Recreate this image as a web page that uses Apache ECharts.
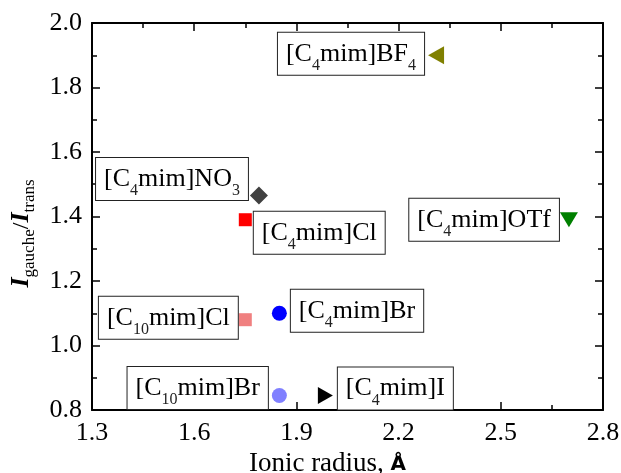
<!DOCTYPE html>
<html>
<head>
<meta charset="utf-8">
<script src="https://cdn.jsdelivr.net/npm/echarts@6/dist/echarts.min.js"></script>
<style>
  html, body { margin: 0; padding: 0; background: #fff; }
  #chart { width: 621px; height: 473px; }
</style>
</head>
<body>
<div id="chart"></div>
<script>
// data
var labels = ['[C4mim]BF4', '[C4mim]NO3', '[C4mim]Cl', '[C4mim]OTf', '[C10mim]Cl', '[C4mim]Br', '[C10mim]Br', '[C4mim]I'];
var ionicRadius = [2.31, 1.79, 1.75, 2.70, 1.75, 1.85, 1.85, 1.985];
var ratio = [1.90, 1.465, 1.39, 1.39, 1.08, 1.10, 0.845, 0.845];
var xTicks = [1.3, 1.6, 1.9, 2.2, 2.5, 2.8];
var yTicks = [0.8, 1.0, 1.2, 1.4, 1.6, 1.8, 2.0];

// marker styles
var symbols = [
    'path://M0,5L10,0L10,10Z',   // left triangle
    'diamond',
    'rect',
    'path://M0,0L10,0L5,10Z',    // down triangle
    'rect',
    'circle',
    'circle',
    'path://M0,0L10,5L0,10Z'     // right triangle
];
var sizes = [[16, 18], [18, 18], [13, 13], [18, 15], [13, 13], [15, 15], [15, 15], [15, 17]];
var colors = ['#808000', '#404040', '#ff0000', '#008000', '#f08080', '#0000ff', '#8080ff', '#000000'];
// label placement: side, gap, vertical offset
var labelPos = [
    ['left', 4, -1.5],
    ['left', 2, -16.5],
    ['right', 2, 13],
    ['left', 1, 0],
    ['left', 1, -2],
    ['right', 4, -2.5],
    ['left', 4, -7.5],
    ['right', 5, -7]
];

var serif = '"Liberation Serif", "Times New Roman", serif';

function subText(s) {
    // digits become subscripts
    return ('{m|' + s.replace(/(\d+)/g, '}{s|$1}{m|') + '}').replace(/\{m\|\}/g, '');
}

var points = labels.map(function (name, i) {
    return {
        name: name,
        value: [ionicRadius[i], ratio[i]],
        symbol: symbols[i],
        symbolSize: sizes[i],
        itemStyle: { color: colors[i], opacity: 1 },
        label: {
            show: true,
            position: labelPos[i][0],
            distance: labelPos[i][1],
            offset: [0, labelPos[i][2]],
            formatter: subText(name),
            backgroundColor: '#fff',
            borderColor: '#222',
            borderWidth: 1,
            padding: [1, 8, 1, 8],
            rich: {
                m: { fontFamily: serif, fontSize: 26, color: '#000', lineHeight: 40, verticalAlign: 'bottom', padding: [0, 0, 7, 0] },
                s: { fontFamily: serif, fontSize: 16, color: '#222', lineHeight: 40, verticalAlign: 'bottom' }
            }
        }
    };
});

var myChart = echarts.init(document.getElementById('chart'), null, { renderer: 'canvas' });

var axisLine = { show: true, lineStyle: { color: '#000', width: 2 } };
var tick = { show: true, inside: true, length: 8, lineStyle: { color: '#000', width: 1.5 } };
var minor = { show: true, splitNumber: 2, length: 5, lineStyle: { color: '#000', width: 1.5 } };

var option = {
    animation: false,
    backgroundColor: '#fff',
    grid: { left: 92, right: 18, top: 23, bottom: 63, containLabel: false, outerBoundsMode: 'none' },
    xAxis: [
        {
            type: 'value', min: xTicks[0], max: xTicks[xTicks.length - 1], interval: 0.3,
            axisLine: axisLine, axisTick: tick, minorTick: minor, splitLine: { show: false },
            axisLabel: { fontFamily: serif, fontSize: 26, color: '#000', margin: 10, formatter: function (v) { return v.toFixed(1); } },
            name: '{t|Ionic radius, }{a|Å}', nameLocation: 'middle', nameGap: 36,
            nameTextStyle: {
                padding: [0, 40, 0, 0],
                rich: {
                    t: { fontFamily: serif, fontSize: 27, color: '#000' },
                    a: { fontFamily: '"DejaVu Sans", sans-serif', fontSize: 20, fontWeight: 'bold', color: '#000' }
                }
            }
        },
        {
            type: 'value', position: 'top', min: xTicks[0], max: xTicks[xTicks.length - 1], interval: 0.3,
            axisLine: axisLine, axisTick: tick, minorTick: minor, splitLine: { show: false },
            axisLabel: { show: false }
        }
    ],
    yAxis: [
        {
            type: 'value', min: yTicks[0], max: yTicks[yTicks.length - 1], interval: 0.2,
            axisLine: axisLine, axisTick: tick, minorTick: minor, splitLine: { show: false },
            axisLabel: { fontFamily: serif, fontSize: 26, color: '#000', margin: 10, formatter: function (v) { return v.toFixed(1); } },
            name: '{i|I}{s|gauche}{m|/}{i|I}{s|trans}', nameLocation: 'middle', nameGap: 54, nameRotate: 90,
            nameTextStyle: {
                padding: [0, 34, 0, 0],
                rich: {
                    i: { fontFamily: serif, fontSize: 26, fontStyle: 'italic', fontWeight: 'bold', color: '#000', lineHeight: 34, verticalAlign: 'bottom', padding: [0, 0, 4, 0] },
                    m: { fontFamily: serif, fontSize: 24, color: '#000', lineHeight: 34, verticalAlign: 'bottom', padding: [0, 0, 4, 0] },
                    s: { fontFamily: serif, fontSize: 17, color: '#000', lineHeight: 34, verticalAlign: 'bottom' }
                }
            }
        },
        {
            type: 'value', position: 'right', min: yTicks[0], max: yTicks[yTicks.length - 1], interval: 0.2,
            axisLine: axisLine, axisTick: tick, minorTick: minor, splitLine: { show: false },
            axisLabel: { show: false }
        }
    ],
    series: [
        {
            type: 'scatter',
            data: points,
            emphasis: { disabled: true }
        }
    ]
};

myChart.setOption(option);
</script>
</body>
</html>
